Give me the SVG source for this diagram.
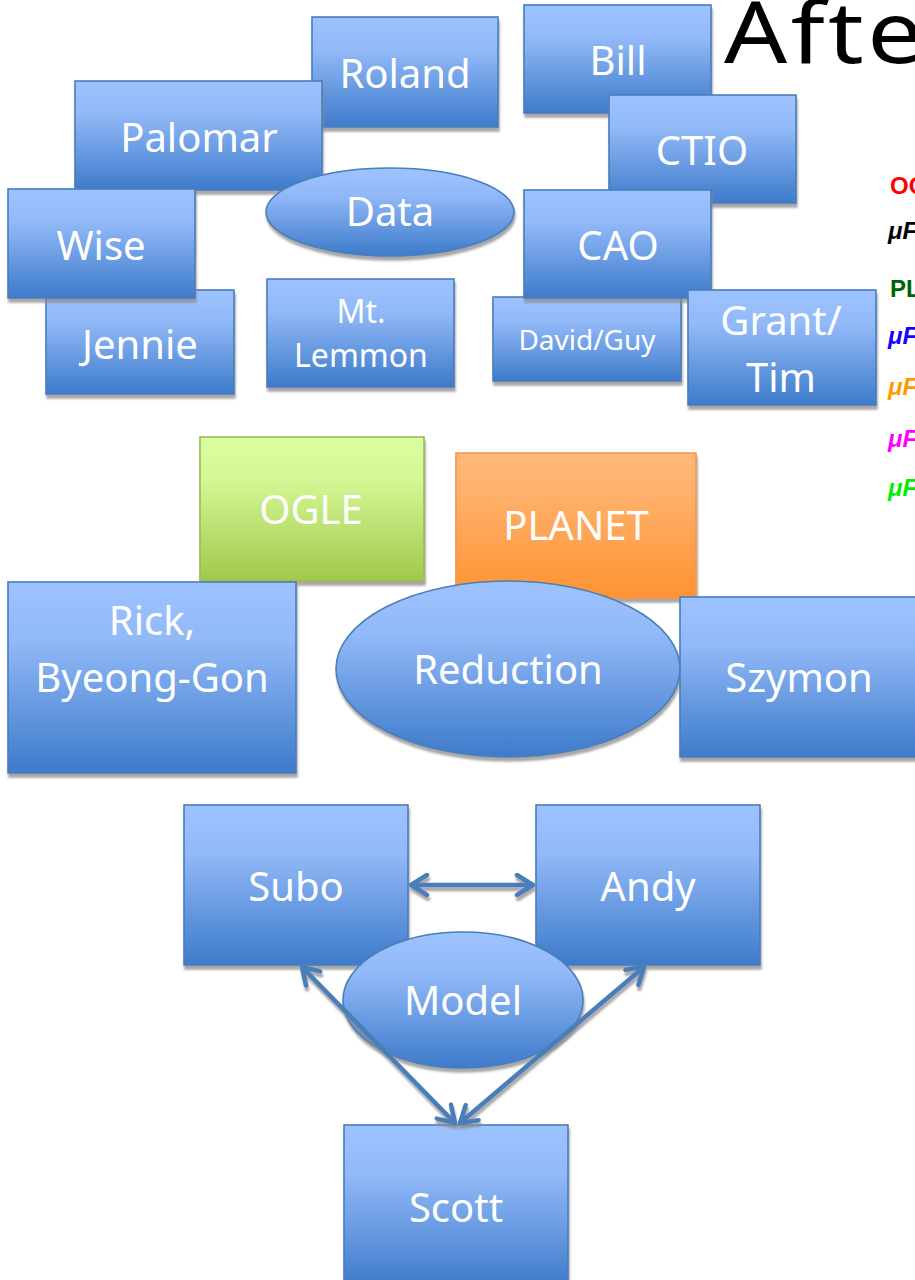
<svg xmlns="http://www.w3.org/2000/svg" width="915" height="1280" viewBox="0 0 915 1280">
<defs>
<linearGradient id="gBlue" x1="0" y1="0" x2="0" y2="1">
<stop offset="0" stop-color="#9DC3FF"/>
<stop offset="0.3" stop-color="#92B9F8"/>
<stop offset="1" stop-color="#3D7BCA"/>
</linearGradient>
<linearGradient id="gGreen" x1="0" y1="0" x2="0" y2="1">
<stop offset="0" stop-color="#DBFF9F"/>
<stop offset="0.3" stop-color="#D3F794"/>
<stop offset="1" stop-color="#A0C94B"/>
</linearGradient>
<linearGradient id="gOrange" x1="0" y1="0" x2="0" y2="1">
<stop offset="0" stop-color="#FFB978"/>
<stop offset="0.3" stop-color="#FFB06A"/>
<stop offset="1" stop-color="#FF9232"/>
</linearGradient>
<filter id="sh" x="-5%" y="-5%" width="115%" height="120%">
<feDropShadow dx="1" dy="4" stdDeviation="0.9" flood-color="#8a8a8a" flood-opacity="0.75"/>
</filter>
<marker id="ah" viewBox="0 0 24 24" refX="20" refY="12" markerWidth="24" markerHeight="24" markerUnits="userSpaceOnUse" orient="auto-start-reverse">
<path d="M4,2 L20,12 L4,22" fill="none" stroke="#4A7EBB" stroke-width="4.5" stroke-linecap="round" stroke-linejoin="round"/>
</marker>
</defs>
<style>
.b{fill:url(#gBlue);stroke:#4A7EBB;stroke-width:1.6;filter:url(#sh)}
.og{fill:url(#gGreen);stroke:#9BBB59;stroke-width:1.6;filter:url(#sh)}
.pl{fill:url(#gOrange);stroke:#F79646;stroke-width:1.6;filter:url(#sh)}
.t{font-family:"Noto Sans","Open Sans",sans-serif;fill:#FFFFFF;font-size:40px;text-anchor:middle}
.s{font-size:32px}
.xs{font-size:28px}
.lg{font-family:"Liberation Sans",Arial,sans-serif;font-weight:bold;font-size:24px}
.cn{fill:none;stroke:#4A7EBB;stroke-width:4.5;marker-start:url(#ah);marker-end:url(#ah)}
</style>
<rect width="915" height="1280" fill="#FFFFFF"/>

<g id="roland"><rect class="b" x="312" y="17" width="186" height="110"/><text class="t" x="405" y="88">Roland</text></g>
<g id="palomar"><rect class="b" x="75" y="81" width="247" height="109"/><text class="t" x="199" y="152">Palomar</text></g>
<g id="jennie"><rect class="b" x="46" y="290" width="188" height="104"/><text class="t" x="140" y="359">Jennie</text></g>
<g id="wise"><rect class="b" x="8" y="189" width="187" height="109"/><text class="t" x="101" y="260">Wise</text></g>
<g id="data"><ellipse class="b" cx="390" cy="212" rx="124" ry="44"/><text class="t" x="390" y="226">Data</text></g>
<g id="mtlemmon"><rect class="b" x="267" y="279" width="187" height="108"/><text class="t s" x="361" y="323">Mt.</text><text class="t s" x="361" y="367">Lemmon</text></g>
<g id="bill"><rect class="b" x="524" y="5" width="187" height="108"/><text class="t" x="618" y="75">Bill</text></g>
<g id="ctio"><rect class="b" x="609" y="95" width="187" height="108"/><text class="t" x="702" y="165">CTIO</text></g>
<g id="davidguy"><rect class="b" x="493" y="297" width="188" height="84"/><text class="t xs" x="587" y="350">David/Guy</text></g>
<g id="cao"><rect class="b" x="524" y="190" width="187" height="108"/><text class="t" x="618" y="260">CAO</text></g>
<g id="granttim"><rect class="b" x="688" y="290" width="188" height="115"/><text class="t" x="781" y="335">Grant/</text><text class="t" x="781" y="392">Tim</text></g>

<g id="title"><text transform="translate(724,63) scale(1.15,1)" x="0" y="0" font-family="'Noto Sans','Open Sans',sans-serif" font-size="86" letter-spacing="3" fill="#000000">After</text></g>
<g id="legend">
<text class="lg" x="890" y="194" fill="#FF0000">OGLE</text>
<text class="lg" x="888" y="239" fill="#000000" font-style="italic">μFUN</text>
<text class="lg" x="890" y="297" fill="#006400">PLANET</text>
<text class="lg" x="888" y="344" fill="#1A00FF" font-style="italic">μFUN</text>
<text class="lg" x="888" y="395" fill="#FF9900" font-style="italic">μFUN</text>
<text class="lg" x="888" y="447" fill="#FF00FF" font-style="italic">μFUN</text>
<text class="lg" x="888" y="496" fill="#00EE00" font-style="italic">μFUN</text>
</g>

<g id="ogle"><rect class="og" x="200" y="437" width="224" height="144"/><text class="t" x="311" y="524">OGLE</text></g>
<g id="planet"><rect class="pl" x="456" y="453" width="240" height="145"/><text class="t" x="576" y="540">PLANET</text></g>
<g id="rick"><rect class="b" x="8" y="582" width="288" height="191"/><text class="t" x="152" y="635">Rick,</text><text class="t" x="152" y="692">Byeong-Gon</text></g>
<g id="reduction"><ellipse class="b" cx="508" cy="669" rx="172" ry="88"/><text class="t" x="508" y="684">Reduction</text></g>
<g id="szymon"><rect class="b" x="680" y="597" width="240" height="160"/><text class="t" x="799" y="692">Szymon</text></g>

<g id="subo"><rect class="b" x="184" y="805" width="224" height="160"/><text class="t" x="296" y="901">Subo</text></g>
<g id="andy"><rect class="b" x="536" y="805" width="224" height="160"/><text class="t" x="648" y="901">Andy</text></g>
<g id="model"><ellipse class="b" cx="463" cy="1000" rx="120" ry="68"/><text class="t" x="463" y="1015">Model</text></g>
<g id="scott"><rect class="b" x="344" y="1125" width="224" height="162"/><text class="t" x="456" y="1222">Scott</text></g>

<g id="connectors" filter="url(#sh)">
<line class="cn" x1="411" y1="885" x2="533" y2="885"/>
<line class="cn" x1="302" y1="967" x2="455" y2="1123"/>
<line class="cn" x1="644" y1="967" x2="460" y2="1123"/>
</g>
</svg>
